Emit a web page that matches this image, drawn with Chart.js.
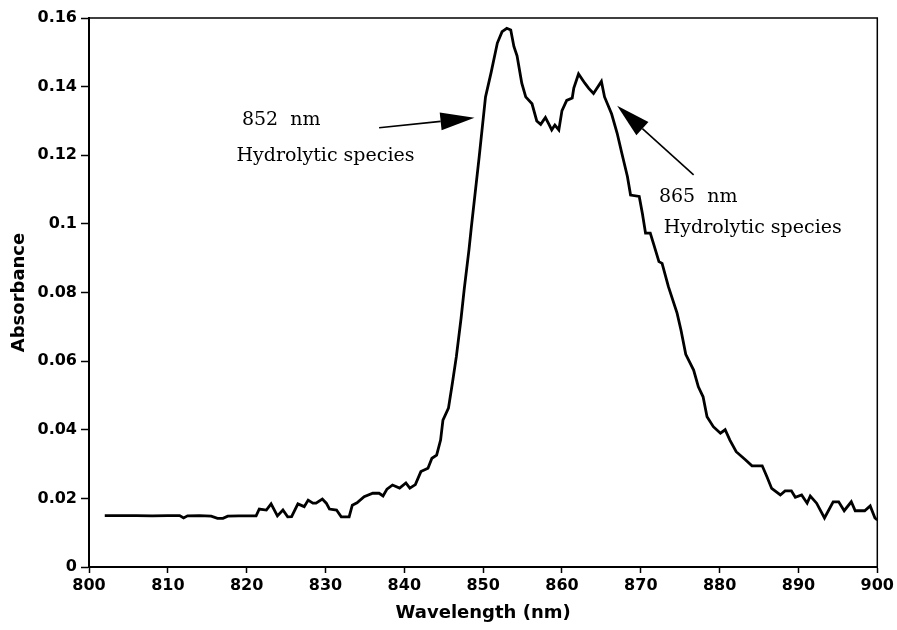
<!DOCTYPE html>
<html>
<head>
<meta charset="utf-8">
<script src="https://cdn.jsdelivr.net/npm/chart.js@4.4.0/dist/chart.umd.min.js"></script>
<style>
  html, body { margin: 0; padding: 0; background: #fff; }
  #wrap { width: 897px; height: 630px; }
</style>
</head>
<body>
<div id="wrap"><canvas id="myChart" width="897" height="630"></canvas></div>
<script>
// spectrum
const wavelengths = [
    802, 804, 806, 808, 810, 811.5, 812, 812.5, 814, 815.5, 816.3, 817, 817.6, 819, 821.2,
    821.6, 822.5, 823.1, 823.9, 824.6, 825.2, 825.7, 826.5, 827.3, 827.8, 828.4, 828.8, 829.6,
    830.1, 830.5, 831.4, 832.0, 833.0, 833.4, 834.0, 834.9, 836.0, 836.8, 837.3, 837.8, 838.5,
    839.4, 840.2, 840.7, 841.4, 842.1, 843.0, 843.5, 844.1, 844.6, 844.9, 845.6, 846.1, 846.6,
    847.2, 847.6, 848.2, 848.5, 849.5, 850.3, 851.0, 851.8, 852.4, 853.0, 853.5, 853.9, 854.3,
    854.9, 855.4, 856.2, 856.8, 857.3, 857.9, 858.4, 858.7, 859.1, 859.6, 860.0, 860.6, 861.3,
    861.5, 862.1, 862.9, 863.4, 864.0, 865.0, 865.4, 866.3, 867.0, 867.6, 868.3, 868.7, 869.8,
    870.2, 870.6, 871.2, 871.6, 872.3, 872.7, 873.5, 874.6, 875.1, 875.7, 876.7, 877.3, 877.9,
    878.4, 879.2, 880.1, 880.7, 881.3, 882.1, 883.3, 884.1, 885.4, 886.0, 886.6, 887.7, 888.3,
    889.1, 889.6, 890.4, 891.1, 891.5, 892.3, 893.3, 894.4, 895.1, 895.8, 896.7, 897.2, 898.4,
    899.1, 899.7, 900.0
]
const absorbance = [
    0.0150, 0.0150, 0.0150, 0.0149, 0.0150, 0.0150, 0.0143, 0.0149, 0.0150, 0.0148, 0.0142, 0.0142, 0.0148, 0.0149, 0.0149,
    0.0169, 0.0166, 0.0184, 0.0149, 0.0166, 0.0146, 0.0147, 0.0184, 0.0176, 0.0195, 0.0186, 0.0186, 0.0198,
    0.0186, 0.0169, 0.0166, 0.0146, 0.0146, 0.0180, 0.0187, 0.0205, 0.0215, 0.0215, 0.0207, 0.0227, 0.0239,
    0.0230, 0.0245, 0.0230, 0.0240, 0.0278, 0.0288, 0.0317, 0.0326, 0.0370, 0.0428, 0.0463, 0.0536, 0.0613,
    0.0725, 0.0810, 0.0924, 0.0990, 0.1196, 0.1370, 0.1440, 0.1527, 0.1560, 0.1570, 0.1565, 0.1517, 0.1490,
    0.1410, 0.1370, 0.1350, 0.1300, 0.1290, 0.1310, 0.1288, 0.1274, 0.1288, 0.1274, 0.1330, 0.1360, 0.1367,
    0.1396, 0.1437, 0.1410, 0.1395, 0.1380, 0.1415, 0.1370, 0.1320, 0.1264, 0.1205, 0.1138, 0.1084, 0.1080,
    0.1030, 0.0973, 0.0973, 0.0943, 0.0890, 0.0885, 0.0817, 0.0740, 0.0690, 0.0620, 0.0574, 0.0525, 0.0496,
    0.0438, 0.0409, 0.0390, 0.0400, 0.0370, 0.0336, 0.0312, 0.0295, 0.0295, 0.0263, 0.0229, 0.0210, 0.0222,
    0.0222, 0.0203, 0.0210, 0.0186, 0.0207, 0.0186, 0.0143, 0.0190, 0.0190, 0.0164, 0.0190, 0.0164, 0.0164,
    0.0178, 0.0143, 0.0137
]

// labels and arrows, anchored in data units (nm, absorbance)
const labelTexts = ['852 nm', 'Hydrolytic species', '865 nm', 'Hydrolytic species']
const labelAnchors = [[819.4, 0.1288], [818.7, 0.1183], [872.3, 0.1064], [872.9, 0.0973]]
const arrows = [
    { from: [836.8, 0.1280], to: [848.9, 0.1309] },
    { from: [876.7, 0.1143], to: [867.0, 0.1344] }
]

const sans = "'DejaVu Sans', sans-serif"

const annotate = {
    id: 'annotate',
    afterDraw(chart) {
        const { ctx, chartArea, scales: { x, y } } = chart
        ctx.save()
        // frame top and right
        ctx.strokeStyle = '#000'
        ctx.lineWidth = 1.5
        ctx.beginPath()
        ctx.moveTo(chartArea.left, chartArea.top)
        ctx.lineTo(chartArea.right, chartArea.top)
        ctx.lineTo(chartArea.right, chartArea.bottom)
        ctx.stroke()

        ctx.fillStyle = '#000'
        ctx.font = "19px 'DejaVu Serif', serif"
        ctx.textBaseline = 'alphabetic'
        ctx.textAlign = 'left'
        labelTexts.forEach((t, i) => {
            ctx.wordSpacing = t.endsWith('nm') ? '6px' : '0px'
            ctx.fillText(t, x.getPixelForValue(labelAnchors[i][0]), y.getPixelForValue(labelAnchors[i][1]))
        })
        ctx.wordSpacing = '0px'

        for (const a of arrows) {
            const x0 = x.getPixelForValue(a.from[0]), y0 = y.getPixelForValue(a.from[1])
            const x1 = x.getPixelForValue(a.to[0]), y1 = y.getPixelForValue(a.to[1])
            const ang = Math.atan2(y1 - y0, x1 - x0)
            const len = 34, half = 9
            const bx = x1 - len * Math.cos(ang), by = y1 - len * Math.sin(ang)
            ctx.lineWidth = 1.6
            ctx.beginPath()
            ctx.moveTo(x0, y0)
            ctx.lineTo(bx, by)
            ctx.stroke()
            ctx.beginPath()
            ctx.moveTo(x1, y1)
            ctx.lineTo(bx + half * Math.sin(ang), by - half * Math.cos(ang))
            ctx.lineTo(bx - half * Math.sin(ang), by + half * Math.cos(ang))
            ctx.closePath()
            ctx.fill()
        }
        ctx.restore()
    }
}

const ctx = document.getElementById('myChart').getContext('2d')
window.myChart = new Chart(ctx, {
    type: 'line',
    data: {
        datasets: [{
            data: wavelengths.map((w, i) => ({ x: w, y: absorbance[i] })),
            borderColor: '#000',
            borderWidth: 2.8,
            pointRadius: 0,
            tension: 0,
            fill: false
        }]
    },
    options: {
        responsive: false,
        animation: false,
        layout: { padding: { top: 18, right: 18, left: 0, bottom: 0 } },
        plugins: { legend: { display: false }, tooltip: { enabled: false } },
        scales: {
            x: {
                type: 'linear',
                min: 800,
                max: 900,
                afterFit(scale) { scale.height = 63 },
                ticks: {
                    stepSize: 10,
                    color: '#000',
                    padding: 3,
                    font: { family: sans, size: 16, weight: 'bold' }
                },
                grid: { drawOnChartArea: false, drawTicks: true, tickLength: 6, color: '#000', tickWidth: 1.5 },
                border: { display: true, color: '#000', width: 2 },
                title: {
                    display: true,
                    text: 'Wavelength (nm)',
                    color: '#000',
                    padding: { top: 0, bottom: 6 },
                    font: { family: sans, size: 18, weight: 'bold' }
                }
            },
            y: {
                min: 0,
                max: 0.16,
                afterFit(scale) { scale.width = 89 },
                ticks: {
                    stepSize: 0.02,
                    color: '#000',
                    padding: 4,
                    font: { family: sans, size: 16, weight: 'bold' },
                    callback: v => String(+v.toFixed(2))
                },
                grid: { drawOnChartArea: false, drawTicks: true, tickLength: 8, color: '#000', tickWidth: 1.5 },
                border: { display: true, color: '#000', width: 2 },
                title: {
                    display: true,
                    text: 'Absorbance',
                    color: '#000',
                    padding: { top: 9, bottom: 0 },
                    font: { family: sans, size: 18, weight: 'bold' }
                }
            }
        }
    },
    plugins: [annotate]
})
</script>
</body>
</html>
